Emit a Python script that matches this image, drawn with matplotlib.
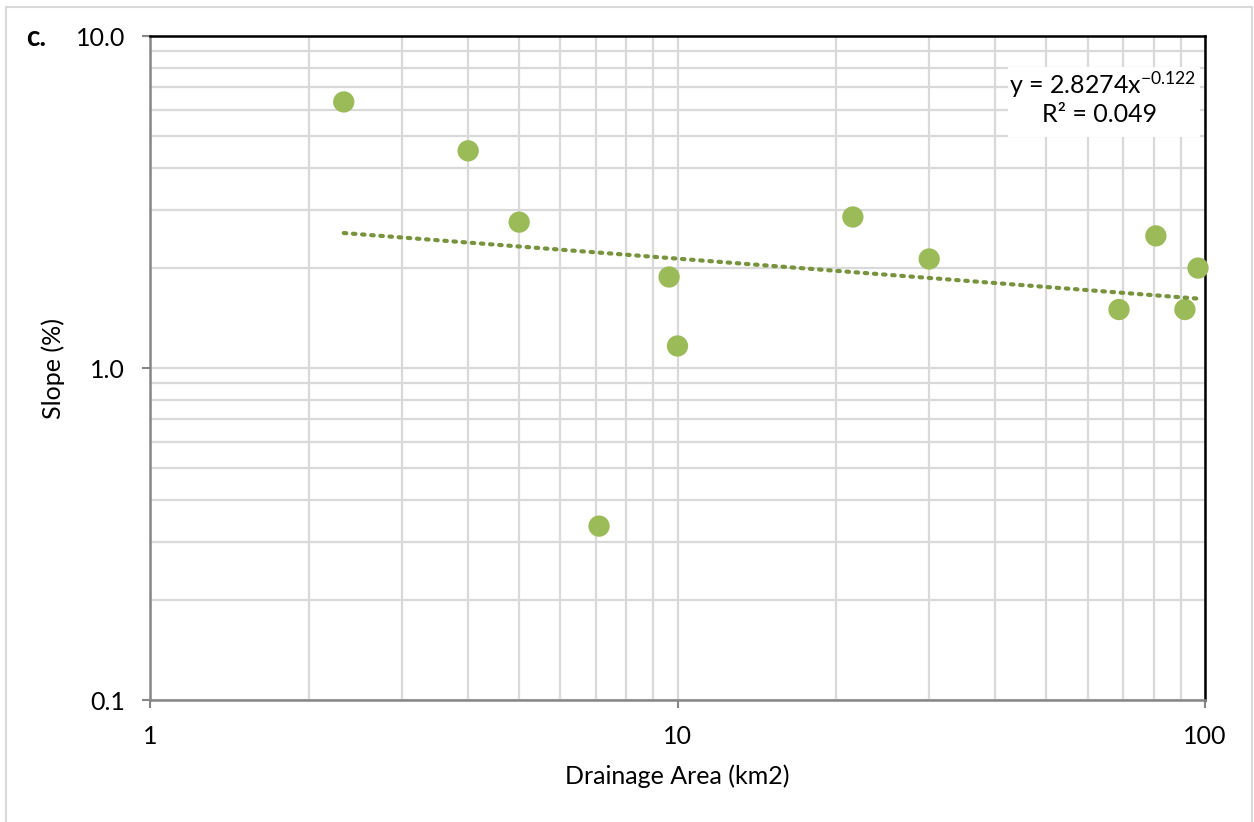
import numpy as np
import matplotlib
matplotlib.use("Agg")
import matplotlib.pyplot as plt
from matplotlib.patches import Rectangle
from matplotlib.ticker import LogLocator, FixedLocator, NullFormatter

plt.rcParams['font.family'] = ['Lato', 'DejaVu Sans']
plt.rcParams['mathtext.default'] = 'regular'

# Drainage area (km2) and channel slope (%) per site
drainage_area = [2.33, 4.01, 5.01, 9.64, 10.0, 7.10, 21.5, 30.0, 68.7, 80.7, 91.6, 97.0]
slope_pct = [6.33, 4.51, 2.75, 1.88, 1.165, 0.334, 2.85, 2.13, 1.50, 2.50, 1.50, 2.00]

# Power-law trendline y = a * x^b
trend_a = 2.8274
trend_b = -0.122
trend_r2 = 0.049

x_ticks = [1, 10, 100]
x_tick_labels = ["1", "10", "100"]
y_ticks = [0.1, 1.0, 10.0]
y_tick_labels = ["0.1", "1.0", "10.0"]

FS = 18

W, H = 1254, 822
fig = plt.figure(figsize=(W / 100, H / 100), dpi=100)
ax = fig.add_axes([150 / W, 1 - 700 / H, (1205 - 150) / W, (700 - 36) / H])

ax.set_xscale('log')
ax.set_yscale('log')
ax.set_xlim(1, 100)
ax.set_ylim(0.1, 10)

grid_c = '#D9D9D9'
ax.xaxis.set_major_locator(FixedLocator(x_ticks))
ax.yaxis.set_major_locator(FixedLocator(y_ticks))
ax.xaxis.set_minor_locator(LogLocator(base=10, subs=np.arange(2, 10)))
ax.yaxis.set_minor_locator(LogLocator(base=10, subs=np.arange(2, 10)))
ax.xaxis.set_minor_formatter(NullFormatter())
ax.yaxis.set_minor_formatter(NullFormatter())
ax.set_xticklabels(x_tick_labels)
ax.set_yticklabels(y_tick_labels)
ax.grid(True, which='both', color=grid_c, linewidth=1.6, zorder=0)
ax.set_axisbelow(True)

ax.tick_params(which='major', direction='out', length=6, width=1.5, color='#868686',
               labelsize=FS, labelcolor='black')
ax.tick_params(axis='x', which='major', pad=12)
ax.tick_params(axis='y', which='major', pad=12)
ax.tick_params(which='minor', length=0)

for side in ['left', 'bottom']:
    ax.spines[side].set_color('#868686')
    ax.spines[side].set_linewidth(1.8)
for side in ['top', 'right']:
    ax.spines[side].set_color('black')
    ax.spines[side].set_linewidth(1.8)

# Scatter points
ax.scatter(drainage_area, slope_pct, s=235, color='#9BBB59', edgecolors='none', zorder=3,
           clip_on=False)

# Trendline across the data range
xt = np.logspace(np.log10(min(drainage_area)), np.log10(max(drainage_area)), 200)
ax.plot(xt, trend_a * xt ** trend_b, linestyle=(0, (0.6, 1.6)), linewidth=3,
        color='#77933C', zorder=4, dash_capstyle='round')

ax.set_xlabel('Drainage Area (km2)', fontsize=FS, labelpad=12)
ax.set_ylabel('Slope (%)', fontsize=FS, labelpad=8)

# Equation box
fig.patches.append(Rectangle((1008 / W, 1 - 137 / H), 192 / W, 70 / H,
                             transform=fig.transFigure, facecolor='white',
                             edgecolor='none', zorder=5))
fig.text(1103 / W, 1 - 85 / H, f'y = {trend_a}x$^{{{trend_b}}}$', ha='center', va='center',
         fontsize=FS, zorder=6)
fig.text(1100 / W, 1 - 115 / H, f'R² = {trend_r2:.3f}', ha='center', va='center',
         fontsize=FS, zorder=6)

# Panel letter
fig.text(36 / W, 1 - 38 / H, 'c.', fontsize=20, fontweight='bold', ha='center', va='center')

# Outer chart border
fig.patches.append(Rectangle((6 / W, -0.05), (1252 - 6) / W, 1.05 - 7 / H,
                             transform=fig.transFigure, facecolor='none',
                             edgecolor='#D9D9D9', linewidth=1.5, zorder=0))

fig.savefig('out.png', dpi=100)
